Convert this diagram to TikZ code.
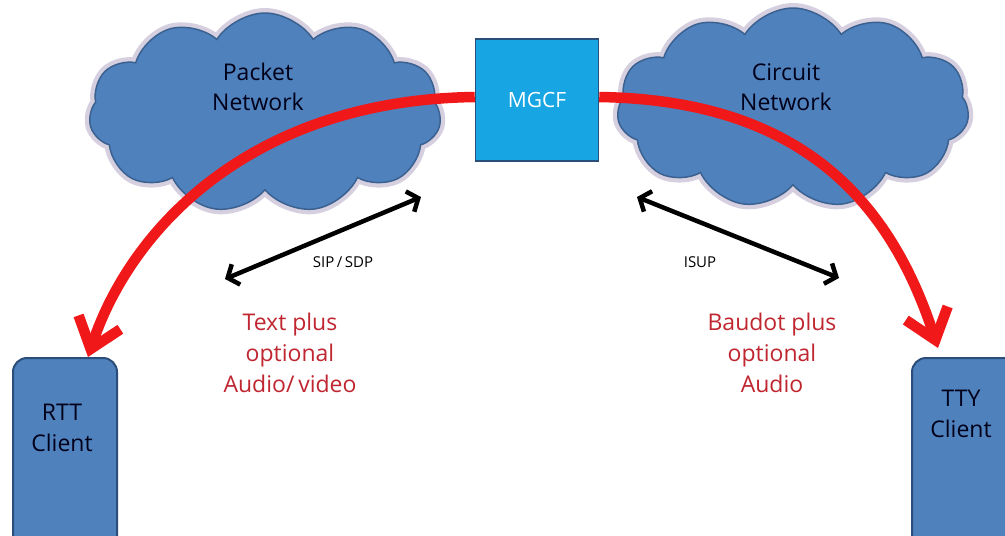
\documentclass[tikz,border=0pt]{standalone}
\usepackage{fontspec}
\setmainfont{Open Sans}
\usetikzlibrary{shapes.symbols,arrows.meta}
\definecolor{cloudfill}{HTML}{4F81BD}
\definecolor{clouddraw}{HTML}{3A6190}
\definecolor{halo}{HTML}{C4BCD2}
\definecolor{mgcffill}{HTML}{17A6E3}
\definecolor{mgcfdraw}{HTML}{2B4D7A}
\definecolor{redline}{HTML}{F01818}
\definecolor{redtext}{HTML}{C02630}
\tikzset{
  netcloud/.style={cloud, cloud puffs=11, cloud puff arc=115, aspect=1.8,
    minimum width=352pt, minimum height=200pt, fill=cloudfill, draw=clouddraw, line width=1.5pt},
  netcloudhalo/.style={cloud, cloud puffs=11, cloud puff arc=115, aspect=1.8,
    minimum width=352pt, minimum height=200pt, draw=halo, line width=10pt, opacity=0.7},
  cloudtext/.style={font=\fontsize{23}{30}\selectfont, text=black!90!blue, align=center},
  client/.style={draw=mgcfdraw, fill=cloudfill, line width=2pt, rounded corners=14pt},
  clienttext/.style={font=\fontsize{23}{31}\selectfont, text=black!90!blue, align=center},
  redlabel/.style={font=\fontsize{23}{31}\selectfont, text=redtext, align=center},
  small/.style={font=\fontsize{15}{17}\selectfont},
  flow/.style={draw=redline, line width=10.5pt, -{Straight Barb[length=28pt,width=44pt]}},
  sig/.style={draw=black, line width=4.5pt, {Straight Barb[length=9pt,width=22pt]}-{Straight Barb[length=9pt,width=22pt]}}
}
\begin{document}
\begin{tikzpicture}[x=1pt,y=-1pt]
\useasboundingbox (0,0) rectangle (1005,536);
\fill[white] (0,0) rectangle (1005,536);
% clouds
\node[netcloudhalo] at (265,113) {};
\node[netcloud] (packet) at (265,113) {};
\node[netcloudhalo] at (793,108) {};
\node[netcloud] (circuit) at (793,108) {};
% clients
\draw[client] (13,358) rectangle (117,560);
\draw[client] (912,358) rectangle (1025,560);
\coordinate (rttTop) at (88,357);
\coordinate (ttyTop) at (938,348);
\node[clienttext] (rtt) at (62,428) {RTT\\Client};
\node[clienttext] (tty) at (961,414) {TTY\\Client};
% MGCF
\node[draw=mgcfdraw, fill=mgcffill, line width=1.5pt, minimum width=123pt, minimum height=122pt,
  font=\fontsize{21}{25}\selectfont, text=white] (mgcf) at (537,100) {MGCF};
% red flows
\draw[flow] (mgcf.west |- 0,97) .. controls (250,100) and (130,230) .. (rttTop);
\draw[flow] (mgcf.east |- 0,97) .. controls (800,100) and (890,200) .. (ttyTop);
% cloud labels (over the red lines)
\node[cloudtext] (ptext) at (258,87) {Packet\\Network};
\node[cloudtext] (ctext) at (786,87) {Circuit\\Network};
% signalling arrows
\coordinate (sipA) at (225,279);
\coordinate (sipB) at (421,197);
\coordinate (isupA) at (637,197);
\coordinate (isupB) at (839,278);
\draw[sig] (sipA) -- (sipB);
\draw[sig] (isupA) -- (isupB);
\node[small] (siplab) at (343,262) {SIP\,/\,SDP};
\node[small] (isuplab) at (700,262) {ISUP};
% red labels
\node[redlabel] (textlab) at (290,353) {Text plus\\optional\\Audio/\,video};
\node[redlabel] (baudotlab) at (772,353) {Baudot plus\\optional\\Audio};
\end{tikzpicture}
\end{document}
